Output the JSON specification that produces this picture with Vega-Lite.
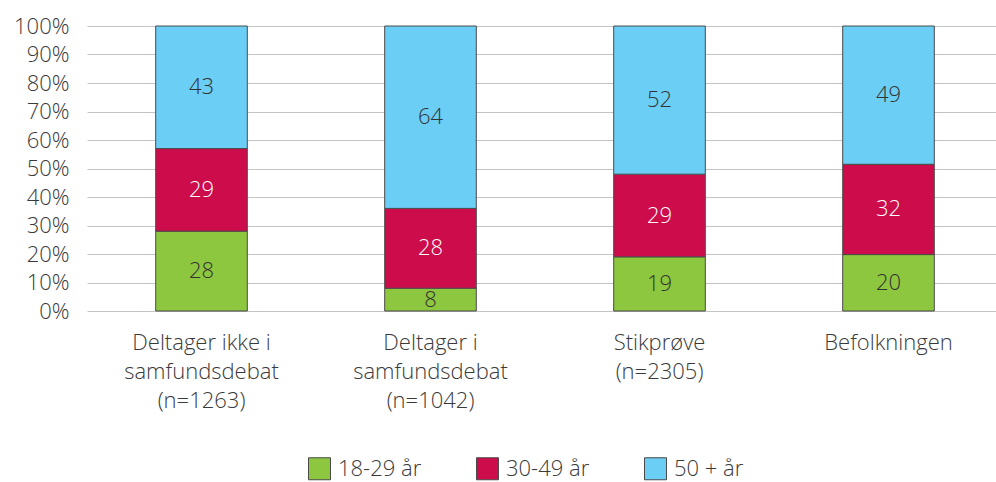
{
  "$schema": "https://vega.github.io/schema/vega-lite/v6.json",
  "autosize": {"type": "none"},
  "padding": {"left": 87, "top": 26, "right": 0, "bottom": 171},
  "width": 916,
  "height": 285,
  "background": "white",
  "config": {
    "view": {"stroke": null},
    "font": "Open Sans",
    "axis": {"labelFont": "Open Sans", "labelColor": "#3a3a3a", "labelFontSize": 22, "labelFontWeight": 300}
  },
  "data": {
    "values": [
      {"group": "Deltager ikke i|samfundsdebat|(n=1263)", "age": "18-29 år", "value": 28},
      {"group": "Deltager ikke i|samfundsdebat|(n=1263)", "age": "30-49 år", "value": 29},
      {"group": "Deltager ikke i|samfundsdebat|(n=1263)", "age": "50 + år", "value": 43},
      {"group": "Deltager i|samfundsdebat|(n=1042)", "age": "18-29 år", "value": 8},
      {"group": "Deltager i|samfundsdebat|(n=1042)", "age": "30-49 år", "value": 28},
      {"group": "Deltager i|samfundsdebat|(n=1042)", "age": "50 + år", "value": 64},
      {"group": "Stikprøve|(n=2305)", "age": "18-29 år", "value": 19},
      {"group": "Stikprøve|(n=2305)", "age": "30-49 år", "value": 29},
      {"group": "Stikprøve|(n=2305)", "age": "50 + år", "value": 52},
      {"group": "Befolkningen", "age": "18-29 år", "value": 20},
      {"group": "Befolkningen", "age": "30-49 år", "value": 32},
      {"group": "Befolkningen", "age": "50 + år", "value": 49}
    ]
  },
  "encoding": {
    "x": {
      "field": "group",
      "type": "nominal",
      "sort": null,
      "scale": {"paddingInner": 0.6, "paddingOuter": 0.3},
      "axis": {
        "title": null,
        "labelAngle": 0,
        "domain": false,
        "ticks": false,
        "labelPadding": 21,
        "labelExpr": "split(datum.label, '|')",
        "labelLineHeight": 29,
        "labelBaseline": "top",
        "labelOverlap": false
      }
    },
    "y": {
      "field": "value",
      "type": "quantitative",
      "stack": "normalize",
      "scale": {"domain": [0, 1]},
      "axis": {
        "title": null,
        "format": ".0%",
        "values": [0, 0.1, 0.2, 0.3, 0.4, 0.5, 0.6, 0.7, 0.8, 0.9, 1],
        "domain": false,
        "ticks": false,
        "labelPadding": 18,
        "labelOverlap": false,
        "labelFlush": false,
        "gridColor": "#c4c4c4",
        "gridWidth": 1
      }
    },
    "order": {"field": "age", "sort": "ascending"}
  },
  "layer": [
    {
      "mark": {"type": "bar", "stroke": "#4a4a4a", "strokeWidth": 1},
      "encoding": {
        "color": {
          "field": "age",
          "type": "nominal",
          "scale": {"domain": ["18-29 år", "30-49 år", "50 + år"], "range": ["#8dc63f", "#cc0c4b", "#6bcef5"]},
          "legend": {
            "title": null,
            "orient": "none",
            "direction": "horizontal",
            "legendX": 221,
            "legendY": 431,
            "symbolType": "square",
            "symbolSize": 484,
            "symbolStrokeColor": "#4a4a4a",
            "symbolStrokeWidth": 1,
            "labelFontSize": 22,
            "labelFontWeight": 300,
            "labelColor": "#3a3a3a",
            "labelFont": "Open Sans",
            "labelOffset": 7,
            "columnPadding": 52
          }
        }
      }
    },
    {
      "mark": {"type": "text", "fontSize": 22, "fontWeight": 300, "baseline": "middle", "align": "center"},
      "encoding": {
        "y": {"field": "value", "type": "quantitative", "stack": "normalize", "bandPosition": 0.5},
        "text": {"field": "value", "type": "quantitative"},
        "color": {
          "condition": {"test": "datum.age === '30-49 år'", "value": "#ffffff"},
          "value": "#333333"
        }
      }
    }
  ]
}
